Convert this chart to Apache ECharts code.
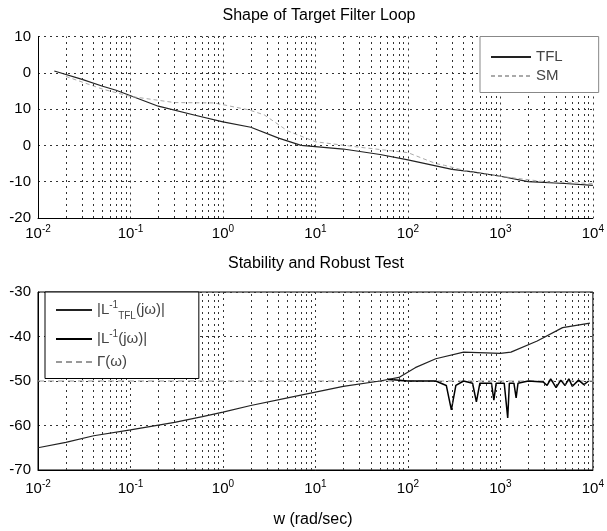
<!DOCTYPE html>
<html>
<head>
<meta charset="utf-8">
<script src="https://cdn.jsdelivr.net/npm/echarts@6/dist/echarts.min.js"></script>
<style>
  html, body { margin: 0; padding: 0; background: #fff; }
  #main { width: 607px; height: 531px; }
</style>
</head>
<body>
<div id="main"></div>
<script>
// tick labels
const xTickExp = ['-2', '-1', '0', '1', '2', '3', '4'];
const topYLabels = ['-20', '-10', '0', '10', '0', '10'];   // as printed in the scan
const botYLabels = ['-70', '-60', '-50', '-40', '-30'];

// top plot: target filter loop shapes (dB)
const tflW   = [0.015, 0.03, 0.05, 0.07, 0.2, 0.5, 1, 2, 4, 7, 20, 50, 100, 300, 500, 1000, 2000, 5000, 10000];
const tflMag = [20.5, 18.2, 16.3, 15.2, 10.8, 8.3, 6.5, 5, 2, 0, -1, -2.5, -4, -6.6, -7.3, -8.5, -10, -10.5, -11];
const smW    = [0.02, 0.05, 0.1, 0.3, 0.8, 1.9, 2.8, 5, 10, 30, 100, 200, 250, 500, 1000, 3000, 10000];
const smMag  = [19, 15.5, 13.5, 11.8, 11.7, 9.8, 8.4, 4, 1, -0.5, -2, -5, -5.5, -7.5, -8.5, -10, -10.5];

// bottom plot: stability / robustness test (dB)
const tflInvW   = [0.01, 0.02, 0.04, 0.1, 0.3, 0.6, 1, 2, 5, 10, 20, 50, 80, 120, 200, 400, 1000, 1300, 2500, 4700, 9300];
const tflInvMag = [-65, -63.8, -62.3, -61, -59.3, -58, -57, -55.5, -53.8, -52.5, -51.2, -50, -49.2, -47, -45, -43.5, -43.8, -43.5, -41, -38, -37];
const lInvW   = [60, 100, 200, 260, 295, 330, 400, 500, 550, 600, 800, 850, 900, 1100, 1200, 1250, 1400, 1480, 1550, 2000, 2900, 3200, 3500, 4000, 4500, 5000, 5500, 6000, 7000, 8000, 9000];
const lInvMag = [-49.6, -50, -50, -51, -56.5, -51, -50, -50.5, -54.7, -50.5, -50.5, -54.3, -50.5, -50.5, -58.3, -50.5, -50.5, -53.8, -50.5, -50, -50.2, -51, -49.5, -51.5, -49.8, -51, -49.5, -51.2, -49.8, -50.8, -50];
const gammaW   = [0.01, 10000];
const gammaMag = [-50, -50];

const FONT = 'Liberation Sans, Arial, sans-serif';

function pairs(xs, ys) { return xs.map((x, i) => [x, ys[i]]); }

// minor log grid lines at 2..9 x each decade
const minorLines = [];
for (let e = -2; e < 4; e++) {
  for (let k = 2; k <= 9; k++) minorLines.push({ xAxis: k * Math.pow(10, e) });
}

const gridLine = { color: '#333', width: 1, type: [2, 4] };

function xAxisCfg(gridIndex, margin) {
  return {
    type: 'log', logBase: 10, gridIndex: gridIndex,
    min: 0.01, max: 10000, splitNumber: 6,
    axisLine: { show: true, onZero: false, lineStyle: { color: '#000' } },
    axisTick: { show: false },
    splitLine: { show: true, lineStyle: gridLine },
    axisLabel: {
      margin: margin, color: '#000', fontFamily: FONT, fontSize: 15,
      formatter: (v, i) => '10{sup|' + xTickExp[i] + '}',
      rich: { sup: { fontSize: 10, fontFamily: FONT, color: '#000', padding: [0, 0, 9, 0] } }
    }
  };
}

function yAxisCfg(gridIndex, min, max, labels) {
  return {
    type: 'value', gridIndex: gridIndex, min: min, max: max, interval: 10,
    axisLine: { show: true, lineStyle: { color: '#000' } },
    axisTick: { show: false },
    splitLine: { show: true, lineStyle: gridLine },
    axisLabel: {
      margin: 7, color: '#000', fontFamily: FONT, fontSize: 15,
      formatter: (v, i) => labels[i]
    }
  };
}

const chart = echarts.init(document.getElementById('main'));
chart.setOption({
  backgroundColor: '#fff',
  animation: false,
  textStyle: { fontFamily: FONT },
  grid: [
    { left: 38, right: 9, top: 36.5, height: 181.5 },
    { left: 38, right: 9, top: 292, height: 178, show: true, borderColor: '#000', borderWidth: 1 }
  ],
  xAxis: [xAxisCfg(0, 6), xAxisCfg(1, 9)],
  yAxis: [yAxisCfg(0, -20, 30, topYLabels), yAxisCfg(1, -70, -30, botYLabels)],
  graphic: [
    { type: 'text', x: 319, y: 16, style: { text: 'Shape of Target Filter Loop', font: '16px ' + FONT, fill: '#000', align: 'center', verticalAlign: 'middle' } },
    { type: 'text', x: 316, y: 264, style: { text: 'Stability and Robust Test', font: '16px ' + FONT, fill: '#000', align: 'center', verticalAlign: 'middle' } },
    { type: 'text', x: 313, y: 520, style: { text: 'w (rad/sec)', font: '16px ' + FONT, fill: '#000', align: 'center', verticalAlign: 'middle' } }
  ],
  legend: [
    {
      data: ['TFL', 'SM'], z: 20,
      orient: 'vertical', left: 480, top: 36.5,
      itemWidth: 40, itemHeight: 10, itemGap: 4,
      itemStyle: { opacity: 0 },
      padding: [13, 36, 9, 10],
      backgroundColor: '#fff', borderColor: '#888', borderWidth: 1, borderRadius: 0,
      textStyle: { fontFamily: FONT, fontSize: 15, color: '#444' }
    },
    {
      data: ['Ltfl', 'L', 'Gamma'], z: 20,
      orient: 'vertical', left: 45, top: 292,
      itemWidth: 36, itemHeight: 10, itemGap: 8,
      itemStyle: { opacity: 0 },
      padding: [8, 34, 9, 10],
      backgroundColor: '#fff', borderColor: '#000', borderWidth: 1, borderRadius: 0,
      formatter: name => ({
        Ltfl: '|L{sup|-1}{sub|TFL}(jω)|',
        L: '|L{sup|-1}(jω)|',
        Gamma: 'Γ(ω)'
      })[name],
      textStyle: {
        fontFamily: FONT, fontSize: 15, color: '#444',
        rich: {
          sup: { fontSize: 10, fontFamily: FONT, color: '#444', padding: [0, 0, 10, 0] },
          sub: { fontSize: 10, fontFamily: FONT, color: '#444', padding: [12, 0, 0, 0] }
        }
      }
    }
  ],
  series: [
    {
      name: 'grid-top', type: 'line', xAxisIndex: 0, yAxisIndex: 0, data: [], silent: true,
      markLine: { silent: true, symbol: 'none', label: { show: false }, lineStyle: gridLine, data: minorLines }
    },
    {
      name: 'grid-bot', type: 'line', xAxisIndex: 1, yAxisIndex: 1, data: [], silent: true,
      markLine: { silent: true, symbol: 'none', label: { show: false }, lineStyle: gridLine, data: minorLines }
    },
    {
      name: 'TFL', type: 'line', xAxisIndex: 0, yAxisIndex: 0, symbol: 'none',
      data: pairs(tflW, tflMag), lineStyle: { color: '#222', width: 1.2 }, itemStyle: { color: '#222' }
    },
    {
      name: 'SM', type: 'line', xAxisIndex: 0, yAxisIndex: 0, symbol: 'none',
      data: pairs(smW, smMag), lineStyle: { color: '#aaa', width: 1, type: [4, 3] }, itemStyle: { color: '#aaa' }
    },
    {
      name: 'Ltfl', type: 'line', xAxisIndex: 1, yAxisIndex: 1, symbol: 'none',
      data: pairs(tflInvW, tflInvMag), lineStyle: { color: '#222', width: 1.2 }, itemStyle: { color: '#222' }
    },
    {
      name: 'L', type: 'line', xAxisIndex: 1, yAxisIndex: 1, symbol: 'none',
      data: pairs(lInvW, lInvMag), lineStyle: { color: '#000', width: 1.5 }, itemStyle: { color: '#000' }
    },
    {
      name: 'Gamma', type: 'line', xAxisIndex: 1, yAxisIndex: 1, symbol: 'none', z: 1,
      data: pairs(gammaW, gammaMag), lineStyle: { color: '#999', width: 1, type: [6, 4] }, itemStyle: { color: '#999' }
    }
  ]
});
</script>
</body>
</html>
